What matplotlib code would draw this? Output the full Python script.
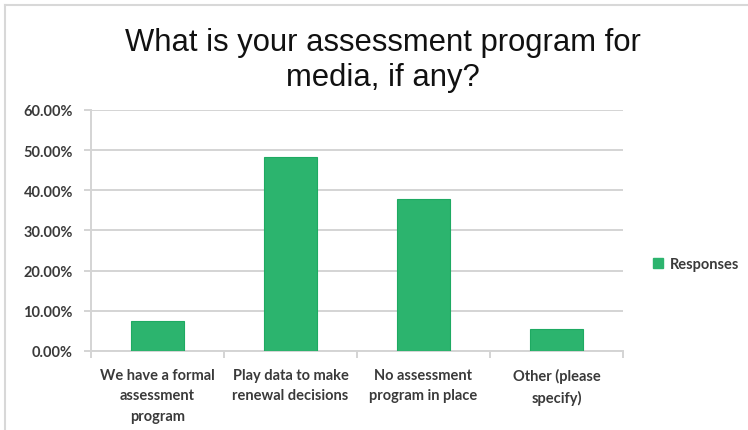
import matplotlib
matplotlib.use("Agg")
import matplotlib.pyplot as plt
from matplotlib.lines import Line2D
from matplotlib.ticker import FuncFormatter, MultipleLocator
import numpy as np

categories = [
    "We have a formal\nassessment\nprogram",
    "Play data to make\nrenewal decisions",
    "No assessment\nprogram in place",
    "Other (please\nspecify)",
]
responses = [0.075, 0.482, 0.378, 0.055]
series_name = "Responses"
title = "What is your assessment program for\nmedia, if any?"

bar_color = "#2cb46e"
edge_color = "#1eaa62"
grid_color = "#d4d4d4"
text_color = "#3a3a3a"

fig = plt.figure(figsize=(7.48, 4.31), dpi=100)
fig.patch.set_facecolor("white")

W, H = 748, 431
ax = fig.add_axes([91 / W, 1 - 352 / H, (623 - 91) / W, (352 - 111) / H])

x = np.arange(len(categories))
ax.bar(x, responses, width=0.4, color=bar_color, edgecolor=edge_color,
       linewidth=0.8, zorder=3, label=series_name)

ax.set_xlim(-0.5, len(categories) - 0.5)
ax.set_ylim(0, 0.6)
ax.yaxis.set_major_locator(MultipleLocator(0.1))
ax.yaxis.set_major_formatter(FuncFormatter(lambda v, _: f"{v * 100:.2f}%"))
ax.grid(axis="y", color=grid_color, linewidth=1.4, zorder=0)

for s in ["top", "right"]:
    ax.spines[s].set_visible(False)
for s in ["left", "bottom"]:
    ax.spines[s].set_color(grid_color)
    ax.spines[s].set_linewidth(1.4)

ax.set_xticks(x)
ax.set_xticklabels(categories, fontfamily="Lato", fontsize=10.5,
                   fontweight="bold", color=text_color, linespacing=1.62)
ax.tick_params(axis="x", length=0, pad=12)
# category boundary tick marks
ax.set_xticks(np.arange(-0.5, len(categories)), minor=True)
ax.tick_params(axis="x", which="minor", length=5, color=grid_color, width=1.4)
ax.tick_params(axis="y", length=5, color=grid_color, width=1.4, pad=8,
               labelsize=10.5, labelcolor=text_color)
for lbl in ax.get_yticklabels():
    lbl.set_fontfamily("Lato")
    lbl.set_fontweight("bold")

fig.text(383 / W, 1 - 28 / H, title, ha="center", va="top",
         fontfamily="Liberation Sans", fontsize=22.3, color="#111111",
         linespacing=1.2)

handle = Line2D([], [], marker="s", linestyle="none", markersize=7,
                markerfacecolor=bar_color, markeredgecolor=bar_color)
fig.legend([handle], [series_name], loc="center left",
           bbox_to_anchor=(638 / W, 1 - 265 / H), frameon=False,
           handletextpad=0.3, handlelength=1.0,
           prop={"family": "Lato", "size": 10.5, "weight": "bold"},
           labelcolor=text_color)

# light frame along the top and left edges
fig.add_artist(Line2D([5 / W, 1], [1 - 6 / H, 1 - 6 / H], color="#d8d8d8",
                      linewidth=1.5, transform=fig.transFigure))
fig.add_artist(Line2D([5 / W, 5 / W], [0, 1 - 6 / H], color="#d8d8d8",
                      linewidth=1.5, transform=fig.transFigure))

fig.savefig("out.png", dpi=100)
